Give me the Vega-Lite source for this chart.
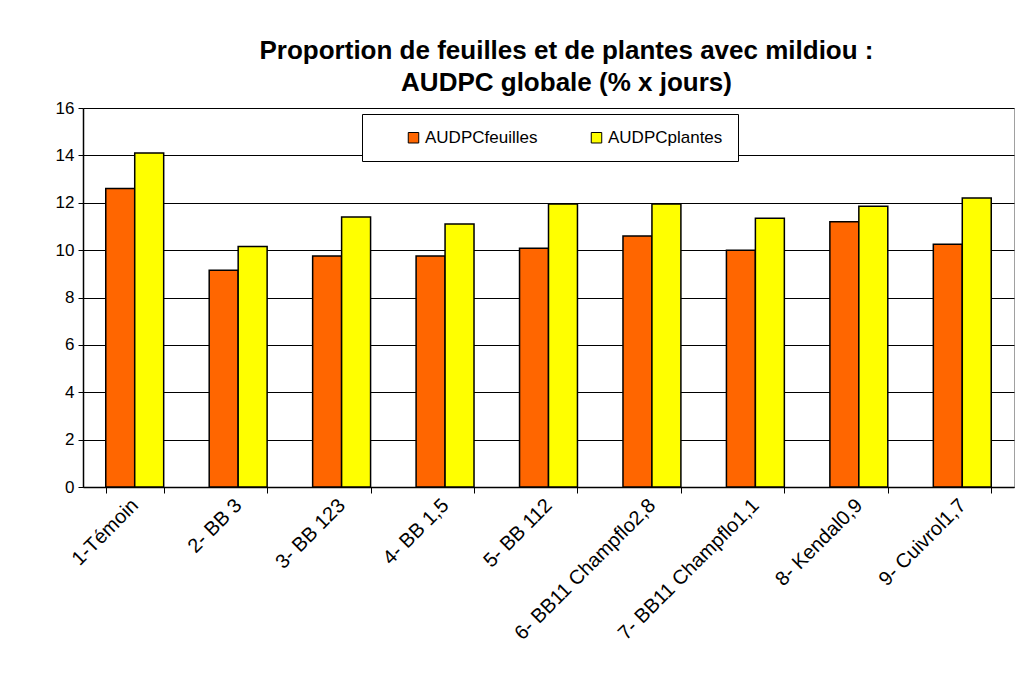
{
  "$schema": "https://vega.github.io/schema/vega-lite/v6.json",
  "width": 931,
  "height": 379,
  "autosize": {"type": "none"},
  "padding": {"left": 83, "top": 108, "right": 7, "bottom": 197},
  "background": "white",
  "title": {
    "text": ["Proportion de feuilles et de plantes avec mildiou :", "AUDPC  globale (% x jours)"],
    "font": "Liberation Sans",
    "fontSize": 26,
    "fontWeight": "bold",
    "color": "black",
    "anchor": "middle",
    "dx": 18,
    "offset": 3,
    "lineHeight": 32
  },
  "data": {
    "values": [
      {"traitement": "1-Témoin", "serie": "AUDPCfeuilles", "valeur": 12.6},
      {"traitement": "1-Témoin", "serie": "AUDPCplantes", "valeur": 14.1},
      {"traitement": "2- BB 3", "serie": "AUDPCfeuilles", "valeur": 9.15},
      {"traitement": "2- BB 3", "serie": "AUDPCplantes", "valeur": 10.15},
      {"traitement": "3- BB 123", "serie": "AUDPCfeuilles", "valeur": 9.75},
      {"traitement": "3- BB 123", "serie": "AUDPCplantes", "valeur": 11.4},
      {"traitement": "4- BB 1,5", "serie": "AUDPCfeuilles", "valeur": 9.75},
      {"traitement": "4- BB 1,5", "serie": "AUDPCplantes", "valeur": 11.1},
      {"traitement": "5- BB 112", "serie": "AUDPCfeuilles", "valeur": 10.08},
      {"traitement": "5- BB 112", "serie": "AUDPCplantes", "valeur": 11.95},
      {"traitement": "6- BB11 Champflo2,8", "serie": "AUDPCfeuilles", "valeur": 10.6},
      {"traitement": "6- BB11 Champflo2,8", "serie": "AUDPCplantes", "valeur": 11.95},
      {"traitement": "7- BB11 Champflo1,1", "serie": "AUDPCfeuilles", "valeur": 10.0},
      {"traitement": "7- BB11 Champflo1,1", "serie": "AUDPCplantes", "valeur": 11.35},
      {"traitement": "8- Kendal0,9", "serie": "AUDPCfeuilles", "valeur": 11.2},
      {"traitement": "8- Kendal0,9", "serie": "AUDPCplantes", "valeur": 11.85},
      {"traitement": "9- Cuivrol1,7", "serie": "AUDPCfeuilles", "valeur": 10.25},
      {"traitement": "9- Cuivrol1,7", "serie": "AUDPCplantes", "valeur": 12.2}
    ]
  },
  "mark": {"type": "bar", "stroke": "black", "strokeWidth": 1.5},
  "encoding": {
    "x": {
      "field": "traitement",
      "type": "nominal",
      "sort": null,
      "scale": {"paddingInner": 0.44, "paddingOuter": 0.22},
      "axis": {
        "title": null,
        "labelAngle": -45,
        "labelAlign": "right",
        "labelBaseline": "middle",
        "labelFont": "Liberation Sans",
        "labelFontSize": 20,
        "labelColor": "black",
        "labelPadding": 9,
        "labelLimit": 400,
        "tickBand": "extent",
        "tickColor": "black",
        "tickSize": 6,
        "domainColor": "black",
        "domainWidth": 1.5
      }
    },
    "xOffset": {"field": "serie", "type": "nominal"},
    "y": {
      "field": "valeur",
      "type": "quantitative",
      "scale": {"domain": [0, 16]},
      "axis": {
        "title": null,
        "values": [0, 2, 4, 6, 8, 10, 12, 14, 16],
        "labelFont": "Liberation Sans",
        "labelFontSize": 17,
        "labelColor": "black",
        "labelPadding": 4,
        "tickColor": "black",
        "tickSize": 5,
        "domainColor": "black",
        "domainWidth": 1.5,
        "grid": true,
        "gridColor": "black",
        "gridWidth": 1
      }
    },
    "color": {
      "field": "serie",
      "type": "nominal",
      "scale": {"domain": ["AUDPCfeuilles", "AUDPCplantes"], "range": ["#FF6600", "#FFFF00"]},
      "legend": {
        "title": null,
        "orient": "none",
        "direction": "horizontal",
        "legendX": 279,
        "legendY": 6,
        "fillColor": "white",
        "strokeColor": "black",
        "padding": 15,
        "symbolType": "square",
        "symbolSize": 110,
        "symbolStrokeColor": "black",
        "symbolStrokeWidth": 1,
        "symbolOffset": 28,
        "labelFont": "Liberation Sans",
        "labelFontSize": 17,
        "labelColor": "black",
        "labelOffset": 3,
        "labelLimit": 300,
        "columnPadding": 22
      }
    }
  },
  "config": {
    "view": {"stroke": "#a0a0a0", "strokeWidth": 1}
  }
}
